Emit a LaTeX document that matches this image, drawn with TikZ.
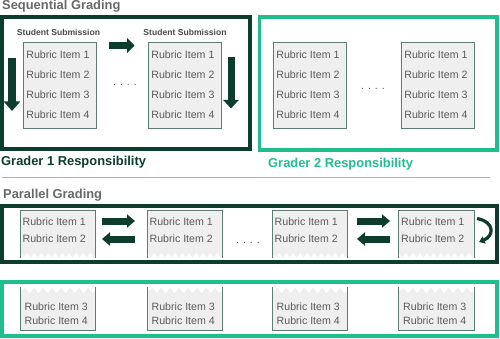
\documentclass[tikz,border=0pt]{standalone}
\usepackage{fontspec}
\setmainfont{Liberation Sans}
\usetikzlibrary{arrows.meta,decorations.pathmorphing}
\definecolor{darkg}{HTML}{0C3D2E}
\definecolor{lightg}{HTML}{1FBE8D}
\definecolor{titlegray}{HTML}{686868}
\definecolor{subgray}{HTML}{4A4A4A}
\definecolor{itemgray}{HTML}{5A5A5A}
\definecolor{cardfill}{HTML}{EFEFEF}
\definecolor{cardline}{HTML}{5E7D72}
\definecolor{sepline}{HTML}{A3B2AB}
\begin{document}
\begin{tikzpicture}[x=1pt,y=-1pt,
  title/.style={font=\bfseries\fontsize{12.9}{15}\selectfont, anchor=base west, inner sep=0},
  sub/.style={font=\bfseries\fontsize{8.6}{10}\selectfont, text=subgray, anchor=base, inner sep=0},
  item/.style={font=\fontsize{10.6}{12}\selectfont, text=itemgray, anchor=base west, inner sep=0},
  dotstyle/.style={font=\fontsize{10.6}{12}\selectfont, text=itemgray, anchor=base, inner sep=0},
  card/.style={draw=cardline, fill=cardfill, line width=0.9pt, anchor=north west, inner sep=0, minimum width=72.5pt, minimum height=86pt},
  g1box/.style={draw=darkg, line width=4pt},
  g2box/.style={draw=lightg, line width=3.8pt},
  bigarrow/.style={draw=darkg, line width=#1},
  torn/.style={fill=cardfill},
  tornline/.style={draw=cardline, line width=0.9pt}
]
\useasboundingbox (0,0) rectangle (500,339);

% ---------- Sequential grading ----------
\node[title, text=titlegray] (seqtitle) at (2,9.3) {Sequential Grading};
\draw[g1box] (2,17) rectangle (250,149);
\draw[g2box] (259.5,17) rectangle (497,150);

\foreach \x/\n in {23/a,148/b,273/c,401/d}{
  \node[card] (card\n) at (\x,42) {};
  \foreach \k/\yy in {1/59,2/79,3/99,4/119}{
    \node[item] (item\n\k) at ({\x+3.2},\yy) {Rubric Item \k};
  }
}
\node[sub] (suba) at (58.5,36) {Student Submission};
\node[sub] (subb) at (185,36) {Student Submission};

\node[dotstyle] (dots1) at (125,86) {. . . .};
\node[dotstyle] (dots2) at (373,90) {. . . .};

\coordinate (la1) at (12,58);  \coordinate (la2) at (12,111);
\coordinate (ra1) at (109,45.5); \coordinate (ra2) at (134.5,45.5);
\coordinate (da1) at (231,57); \coordinate (da2) at (231,108.5);
\draw[bigarrow=8pt, -{Triangle[length=9.5pt,width=16pt]}] (la1) -- (la2);
\draw[bigarrow=7pt, -{Triangle[length=7.5pt,width=15pt]}] (ra1) -- (ra2);
\draw[bigarrow=7pt, -{Triangle[length=8.5pt,width=15pt]}] (da1) -- (da2);

\node[title, text=darkg] (g1lab) at (1,166) {Grader 1 Responsibility};
\node[title, text=lightg] (g2lab) at (268,167.3) {Grader 2 Responsibility};

\draw[sepline, line width=0.8pt] (2,177.5) -- (490,177.5);

% ---------- Parallel grading ----------
\node[title, text=titlegray] (partitle) at (3,198.3) {Parallel Grading};
\draw[g1box] (2,206) rectangle (497,262);
\draw[g2box] (2,282) rectangle (497,336.3);

\foreach \x/\n in {20/p,147/q,272/r,398.5/s}{
  % top half card, torn bottom edge
  \fill[torn] (\x,210) -- ({\x+75.5},210) -- ({\x+75.5},255)
     decorate[decoration={zigzag,segment length=7pt,amplitude=2.6pt}]{-- (\x,255)} -- cycle;
  \draw[tornline] (\x,258) -- (\x,210) -- ({\x+75.5},210) -- ({\x+75.5},258);
  \node[item] (top\n1) at ({\x+2.5},225.7) {Rubric Item 1};
  \node[item] (top\n2) at ({\x+2.5},242.3) {Rubric Item 2};
  % bottom half card, torn top edge
  \fill[torn] (\x,330) -- ({\x+75.5},330) -- ({\x+75.5},290.5)
     decorate[decoration={snake,segment length=9pt,amplitude=2.4pt}]{-- (\x,290.5)} -- cycle;
  \draw[tornline] (\x,287) -- (\x,330) -- ({\x+75.5},330) -- ({\x+75.5},287);
  \node[item] (bot\n3) at ({\x+4.5},310) {Rubric Item 3};
  \node[item] (bot\n4) at ({\x+4.5},324.8) {Rubric Item 4};
}

\node[dotstyle] (dots3) at (248,243.5) {. . . .};

\coordinate (pr1a) at (102,221); \coordinate (pr1b) at (135,221);
\coordinate (pl1a) at (135,239); \coordinate (pl1b) at (102,239);
\coordinate (pr2a) at (357,221); \coordinate (pr2b) at (390,221);
\coordinate (pl2a) at (390,239); \coordinate (pl2b) at (357,239);
\foreach \a/\b in {pr1a/pr1b,pl1a/pl1b,pr2a/pr2b,pl2a/pl2b}{
  \draw[bigarrow=7pt, -{Triangle[length=8pt,width=13pt]}] (\a) -- (\b);
}
\coordinate (cu1) at (477,218.5);
\coordinate (cu2) at (479,242);
\draw[bigarrow=3.2pt, -{Triangle[length=5.5pt,width=7.5pt]}] (cu1) .. controls (495,222) and (494,236) .. (cu2);
\end{tikzpicture}
\end{document}
